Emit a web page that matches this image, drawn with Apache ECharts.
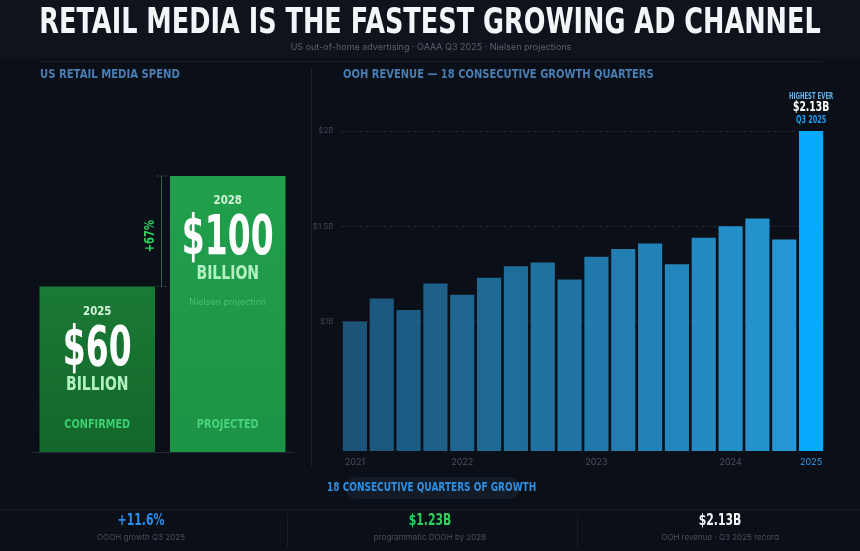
<!DOCTYPE html>
<html>
<head>
<meta charset="utf-8">
<script src="https://cdn.jsdelivr.net/npm/echarts@6/dist/echarts.min.js"></script>
<style>
  html, body { margin: 0; padding: 0; background: #0b0f17; }
  #chart { width: 860px; height: 551px; }
</style>
</head>
<body>
<div id="chart"></div>
<script>
// left panel: US retail media spend ($ billion)
const spendYears = ['2025', '2028'];
const spendValues = [60, 100];
const spendStatus = ['CONFIRMED', 'PROJECTED'];
const spendNotes = ['', 'Nielsen projection'];

// right panel: OOH revenue per quarter ($ billion)
const quarterLabels = ['2021', '', '', '', '2022', '', '', '', '', '2023', '', '', '', '', '2024', '', '', '2025'];
const oohRevenue = [1.00, 1.12, 1.06, 1.20, 1.14, 1.23, 1.29, 1.31, 1.22, 1.34, 1.38, 1.41, 1.30, 1.44, 1.50, 1.54, 1.43, 2.00];
const revenueTicks = [1, 1.5, 2];
const revenueTickLabels = ['$1B', '$1.5B', '$2B'];

// bottom stats
const statValues = ['+11.6%', '$1.23B', '$2.13B'];
const statLabels = ['OOOH growth Q3 2025', 'programmatic DOOH by 2026', 'OOH revenue · Q3 2025 record'];

const HEAVY = "'DejaVu Sans', sans-serif";
const BODY = "Inter, 'Open Sans', sans-serif";

const chart = echarts.init(document.getElementById('chart'));

const mix = (a, b, t) => {
  const pa = a.match(/\w\w/g).map(h => parseInt(h, 16));
  const pb = b.match(/\w\w/g).map(h => parseInt(h, 16));
  return 'rgb(' + pa.map((v, i) => Math.round(v + (pb[i] - v) * t)).join(',') + ')';
};
const lastIdx = oohRevenue.length - 1;
const barColor = i => i === lastIdx ? '#08aaff' : mix('#1c5479', '#2596d3', i / (lastIdx - 1));

const spendGradients = [
  ['#1a7a35', '#13662b'],
  ['#21a04c', '#1c9344']
];

// narrow bold text: no condensed face installed, so squeeze horizontally
const narrow = (text, x, y, size, color, sx, align, extra) => Object.assign({
  type: 'text', x: x, y: y, scaleX: sx, z: 10,
  style: { text: text, fill: color, font: 'bold ' + size + 'px ' + HEAVY, align: align || 'center', verticalAlign: 'middle' }
}, extra || {});
const plain = (text, x, y, size, color) => ({
  type: 'text', x: x, y: y, z: 10,
  style: { text: text, fill: color, font: size + 'px ' + BODY, align: 'center', verticalAlign: 'middle' }
});

const baseGraphic = [
  { type: 'rect', shape: { x: 0, y: 0, width: 860, height: 58 }, style: { fill: '#10131b' }, z: -10 },
  narrow('RETAIL MEDIA IS THE FASTEST GROWING AD CHANNEL', 430, 24, 36, '#f3f5f8', 0.71),
  plain('US out-of-home advertising · OAAA Q3 2025 · Nielsen projections', 431, 47, 9, '#56606e'),
  { type: 'line', shape: { x1: 40, y1: 61.5, x2: 822, y2: 61.5 }, style: { stroke: '#181e2a', lineWidth: 1 } },
  narrow('US RETAIL MEDIA SPEND', 40, 75, 12, '#4a7db2', 0.84, 'left'),
  narrow('OOH REVENUE — 18 CONSECUTIVE GROWTH QUARTERS', 343, 75, 12, '#4a7db2', 0.83, 'left'),
  { type: 'line', shape: { x1: 311.5, y1: 68, x2: 311.5, y2: 466 }, style: { stroke: '#1b212d', lineWidth: 1 } },
  { type: 'rect', shape: { x: 345, y: 477, width: 175, height: 22, r: 11 }, style: { fill: '#131b27' } },
  narrow('18 CONSECUTIVE QUARTERS OF GROWTH', 327, 488, 12, '#2b8fe3', 0.75, 'left'),
  { type: 'line', shape: { x1: 0, y1: 509.5, x2: 860, y2: 509.5 }, style: { stroke: '#161b25', lineWidth: 1 } },
  { type: 'line', shape: { x1: 287.5, y1: 514, x2: 287.5, y2: 548 }, style: { stroke: '#171c26', lineWidth: 1 } },
  { type: 'line', shape: { x1: 577.5, y1: 514, x2: 577.5, y2: 548 }, style: { stroke: '#171c26', lineWidth: 1 } }
].concat(statValues.flatMap((v, i) => {
  const x = [141, 430, 720][i];
  const fill = ['#2a8ef0', '#2fcf5f', '#f3f5f8'][i];
  return [
    narrow(v, x, 521, 16, fill, 0.68),
    plain(statLabels[i], x, 538, 8, '#48505c')
  ];
}));

const option = {
  backgroundColor: '#0b0f17',
  animation: false,
  grid: [
    { left: 32, width: 261, top: 176, bottom: 99 },
    { left: 341.5, right: 35.5, top: 131, bottom: 100 }
  ],
  xAxis: [
    {
      gridIndex: 0,
      type: 'category',
      data: spendYears,
      axisLine: { lineStyle: { color: '#252b37', width: 1 } },
      axisTick: { show: false },
      axisLabel: { show: false }
    },
    {
      gridIndex: 1,
      type: 'category',
      data: quarterLabels,
      axisLine: { show: false },
      axisTick: { show: false },
      axisLabel: {
        interval: 0,
        margin: 7,
        fontSize: 9,
        fontFamily: BODY,
        color: (v, i) => i === lastIdx ? '#2a9df4' : '#4a5260'
      }
    }
  ],
  yAxis: [
    {
      gridIndex: 0,
      type: 'value',
      min: 0,
      max: 100,
      show: false
    },
    {
      gridIndex: 1,
      type: 'value',
      min: 0.32,
      max: 2,
      axisLine: { show: false },
      axisTick: { show: false, customValues: revenueTicks },
      axisLabel: {
        customValues: revenueTicks,
        fontSize: 8,
        margin: 8,
        fontFamily: BODY,
        color: '#3b4350',
        formatter: v => revenueTickLabels[revenueTicks.indexOf(v)]
      },
      splitLine: { lineStyle: { color: '#232a36', type: [3, 3] } }
    }
  ],
  series: [
    {
      type: 'bar',
      xAxisIndex: 0,
      yAxisIndex: 0,
      barCategoryGap: '11.5%',
      data: spendValues.map((v, i) => ({
        value: v,
        itemStyle: {
          color: new echarts.graphic.LinearGradient(0, 0, 0, 1, [
            { offset: 0, color: spendGradients[i][0] },
            { offset: 1, color: spendGradients[i][1] }
          ])
        }
      }))
    },
    {
      type: 'bar',
      xAxisIndex: 1,
      yAxisIndex: 1,
      barCategoryGap: '10%',
      data: oohRevenue.map((v, i) => ({ value: v, itemStyle: { color: barColor(i) } }))
    }
  ],
  graphic: baseGraphic
};

chart.setOption(option);

// texts placed on the bars, from the axes' own pixel positions
const yBase = chart.convertToPixel({ yAxisIndex: 0 }, 0);
const spendText = spendValues.flatMap((v, i) => {
  const cx = chart.convertToPixel({ xAxisIndex: 0 }, spendYears[i]);
  const top = chart.convertToPixel({ yAxisIndex: 0 }, v);
  const items = [
    narrow(spendYears[i], cx, top + 25, 12, '#d4f3da', 0.85),
    narrow('$' + v, cx, top + 64, 55, '#ffffff', 0.6),
    narrow('BILLION', cx, top + 98, 20, '#b2f2c2', 0.7),
    narrow(spendStatus[i], cx, yBase - 27, 13, i === 0 ? '#3ccf74' : '#48d27e', 0.75)
  ];
  if (spendNotes[i]) items.push(plain(spendNotes[i], cx, top + 126, 9, '#4cbd70'));
  return items;
});

const yLow = chart.convertToPixel({ yAxisIndex: 0 }, spendValues[0]);
const yHigh = chart.convertToPixel({ yAxisIndex: 0 }, spendValues[1]);
const xMid = (chart.convertToPixel({ xAxisIndex: 0 }, spendYears[0]) + chart.convertToPixel({ xAxisIndex: 0 }, spendYears[1])) / 2;
const growth = Math.round((spendValues[1] - spendValues[0]) / spendValues[0] * 100);
const bracketStyle = { stroke: '#3e5a4a', lineWidth: 1 };
const bracket = [
  { type: 'line', shape: { x1: xMid - 1, y1: yHigh, x2: xMid - 1, y2: yLow }, style: bracketStyle },
  { type: 'line', shape: { x1: xMid - 6, y1: yHigh, x2: xMid + 4, y2: yHigh }, style: Object.assign({ lineDash: [2, 2] }, bracketStyle) },
  { type: 'line', shape: { x1: xMid - 6, y1: yLow, x2: xMid + 4, y2: yLow }, style: Object.assign({ lineDash: [2, 2] }, bracketStyle) },
  narrow('+' + growth + '%', xMid - 12, (yLow + yHigh) / 2 + 5, 14, '#2fcf5f', 0.71, 'center', { rotation: Math.PI / 2 })
];

const lastX = chart.convertToPixel({ xAxisIndex: 1 }, lastIdx);
const lastTop = chart.convertToPixel({ yAxisIndex: 1 }, oohRevenue[lastIdx]);
const record = [
  narrow('HIGHEST EVER', lastX, lastTop - 34, 9, '#62b4ee', 0.6),
  narrow('$2.13B', lastX, lastTop - 24, 14, '#ffffff', 0.66),
  narrow('Q3 2025', lastX, lastTop - 11, 10, '#1e9cf2', 0.65)
];

chart.setOption({ graphic: baseGraphic.concat(spendText, bracket, record) });

window.addEventListener('resize', () => chart.resize());
</script>
</body>
</html>
